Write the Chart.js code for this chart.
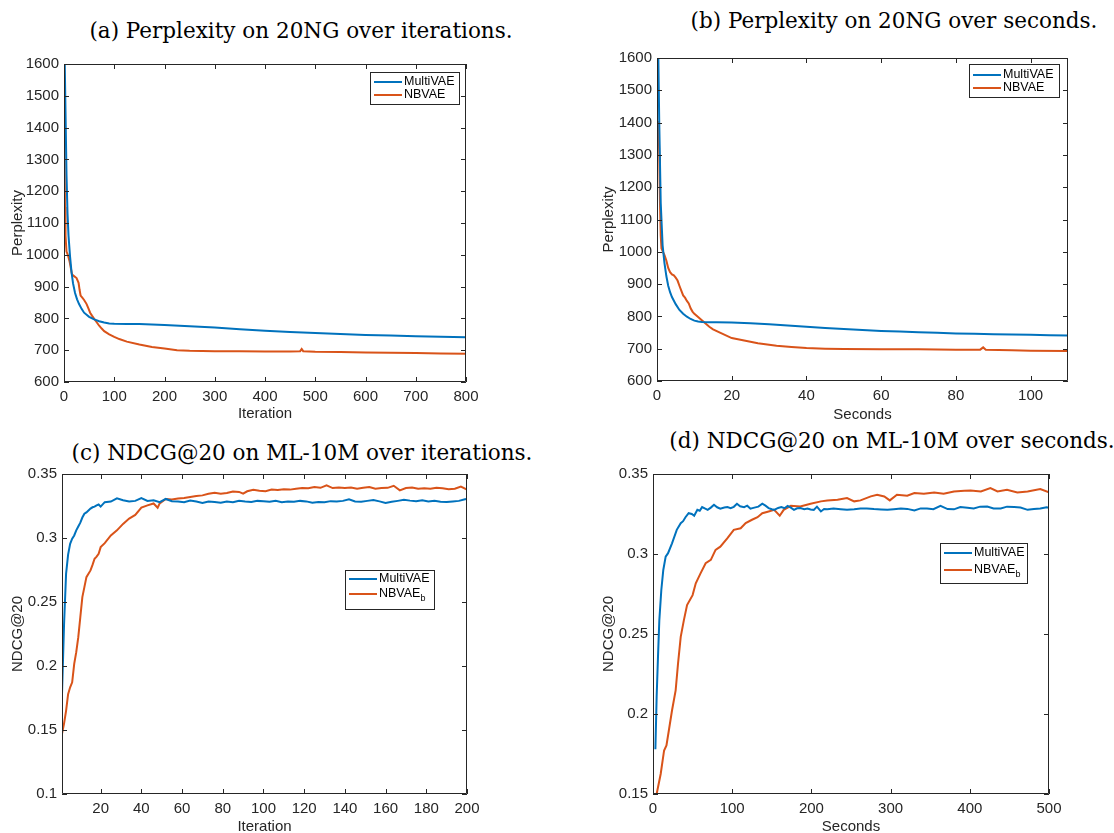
<!DOCTYPE html>
<html>
<head>
<meta charset="utf-8">
<script src="https://cdn.jsdelivr.net/npm/chart.js@4.4.0/dist/chart.umd.min.js"></script>
<style>
  html, body { margin: 0; padding: 0; background: #fff; }
  body { width: 1114px; height: 833px; position: relative; overflow: hidden; }
  .cap { position: absolute; font-family: "DejaVu Serif", serif; font-size: 21.5px; color: #000;
         white-space: nowrap; transform: translate(-50%, -50%); }
  canvas { position: absolute; }
</style>
</head>
<body>
<div class="cap" style="left:301px; top:30px">(a) Perplexity on 20NG over iterations.</div>
<div class="cap" style="left:894px; top:20px">(b) Perplexity on 20NG over seconds.</div>
<div class="cap" style="left:302px; top:452px">(c) NDCG@20 on ML-10M over iterations.</div>
<div class="cap" style="left:892px; top:440px">(d) NDCG@20 on ML-10M over seconds.</div>
<canvas id="chartA"></canvas>
<canvas id="chartB"></canvas>
<canvas id="chartC"></canvas>
<canvas id="chartD"></canvas>
<script>
// ---- data ----
const seriesNames = ['MultiVAE', 'NBVAE'];
const seriesNamesB = ['MultiVAE', 'NBVAE_b'];

// (a) perplexity vs iteration
const aBlueX = [1, 3, 5, 7, 9, 12, 15, 18, 22, 26, 30, 35, 40, 50, 60, 70, 80, 90, 100, 125, 150, 175, 200, 250, 300, 350, 400, 450, 500, 550, 600, 650, 700, 750, 800];
const aBlueY = [1650, 1450, 1250, 1130, 1060, 995, 945, 910, 880, 860, 845, 830, 818, 805, 797, 791, 787, 784, 783, 782, 782, 781, 779, 775, 771, 766, 761, 757, 754, 751, 748, 746, 744, 742, 741];
const aOrangeX = [0, 1, 2, 3, 5, 8, 11, 14, 16, 20, 25, 29, 31, 33, 36, 40, 45, 49, 52, 56, 60, 65, 70, 75, 80, 90, 100, 110, 125, 150, 175, 200, 225, 250, 300, 350, 400, 450, 470, 473, 476, 500, 550, 600, 650, 700, 750, 800];
const aOrangeY = [1430, 1300, 1150, 1060, 1010, 998, 980, 955, 938, 933, 927, 912, 890, 872, 866, 858, 845, 830, 818, 808, 799, 788, 777, 768, 760, 750, 742, 735, 727, 718, 710, 705, 700, 698, 697, 697, 696, 696, 697, 704, 697, 695, 694, 693, 692, 691, 690, 689];

// (b) perplexity vs seconds
const bBlueX = [0.3, 0.6, 1, 1.5, 2, 2.5, 3, 3.5, 4, 5, 6, 7, 8, 9, 10, 11, 12, 14, 16, 20, 25, 30, 35, 40, 45, 50, 55, 60, 65, 70, 75, 80, 85, 90, 95, 100, 105, 110];
const bBlueY = [1650, 1400, 1150, 1020, 965, 925, 895, 875, 860, 838, 820, 808, 799, 792, 787, 784, 783, 782, 782, 781, 779, 776, 772, 768, 764, 761, 758, 755, 753, 751, 749, 747, 746, 745, 744, 743, 742, 741];
const bOrangeX = [0.4, 0.6, 0.8, 1, 1.2, 1.6, 2, 2.5, 3, 3.5, 4, 4.5, 5, 5.5, 6, 6.5, 7, 7.5, 8, 8.5, 9, 9.5, 10, 11, 12, 13, 14, 15, 17, 20, 23, 27, 32, 36, 40, 45, 50, 60, 70, 80, 86.5, 87.3, 88, 95, 100, 110];
const bOrangeY = [1405, 1300, 1150, 1050, 1010, 1000, 990, 973, 950, 937, 930, 927, 920, 911, 895, 880, 865, 858, 848, 840, 825, 815, 808, 798, 788, 778, 768, 760, 749, 733, 726, 717, 709, 705, 702, 700, 699, 698, 698, 697, 697, 704, 697, 695, 694, 693];

// (c) NDCG@20 vs iteration
const cBlueX = [1, 2, 3, 4, 5, 6, 7, 8, 9, 10, 11, 12, 13, 14, 15, 16, 17, 18, 19, 20, 22, 25, 28, 31, 34, 37, 40, 43, 46, 49, 52, 55, 58, 61, 64, 67, 70, 73, 76, 79, 82, 85, 88, 91, 94, 97, 100, 103, 106, 109, 112, 115, 118, 121, 124, 127, 130, 133, 136, 139, 142, 145, 148, 151, 154, 157, 160, 163, 166, 169, 172, 175, 178, 181, 184, 187, 190, 193, 196, 199, 200];
const cBlueY = [0.178, 0.232, 0.272, 0.287, 0.2955, 0.2995, 0.302, 0.306, 0.309, 0.312, 0.316, 0.319, 0.320, 0.3215, 0.323, 0.324, 0.3245, 0.3255, 0.3262, 0.3245, 0.328, 0.3285, 0.331, 0.3295, 0.3285, 0.329, 0.3312, 0.329, 0.3295, 0.328, 0.3305, 0.3287, 0.3285, 0.328, 0.3292, 0.3285, 0.3273, 0.3285, 0.3282, 0.3275, 0.3285, 0.328, 0.329, 0.3285, 0.3282, 0.329, 0.3287, 0.3283, 0.329, 0.328, 0.3286, 0.3283, 0.329, 0.3286, 0.3275, 0.3282, 0.328, 0.3288, 0.3285, 0.329, 0.3302, 0.3285, 0.3283, 0.329, 0.3297, 0.3286, 0.3273, 0.3283, 0.329, 0.3298, 0.3292, 0.3288, 0.3295, 0.3285, 0.329, 0.3283, 0.3281, 0.3286, 0.329, 0.3302, 0.3305];
const cOrangeX = [1, 2, 3, 4, 5, 6, 7, 8, 9, 10, 11, 12, 13, 14, 15, 16, 17, 18, 19, 20, 22, 25, 28, 31, 34, 37, 40, 43, 46, 48, 49, 52, 55, 58, 61, 64, 67, 70, 73, 76, 79, 82, 85, 88, 90, 92, 95, 98, 101, 104, 107, 110, 113, 116, 119, 122, 125, 128, 131, 134, 137, 140, 143, 146, 149, 152, 155, 158, 161, 164, 167, 170, 173, 176, 179, 182, 185, 188, 191, 194, 197, 200];
const cOrangeY = [0.147, 0.155, 0.165, 0.178, 0.1834, 0.1873, 0.2017, 0.2108, 0.2225, 0.2382, 0.2538, 0.2616, 0.2694, 0.272, 0.2747, 0.279, 0.2838, 0.2855, 0.2877, 0.2929, 0.296, 0.302, 0.306, 0.311, 0.3152, 0.318, 0.3237, 0.3255, 0.327, 0.3237, 0.327, 0.3305, 0.33, 0.3308, 0.3312, 0.332, 0.3328, 0.3333, 0.3345, 0.3354, 0.3346, 0.3352, 0.3364, 0.336, 0.3346, 0.3365, 0.3377, 0.337, 0.3366, 0.3378, 0.3375, 0.338, 0.3378, 0.3385, 0.339, 0.3388, 0.3398, 0.3392, 0.3412, 0.339, 0.3395, 0.339, 0.3395, 0.3385, 0.3392, 0.3398, 0.3385, 0.339, 0.3392, 0.3408, 0.3372, 0.339, 0.3395, 0.3385, 0.3388, 0.3385, 0.3392, 0.3388, 0.338, 0.3385, 0.3402, 0.3378];

// (d) NDCG@20 vs seconds
const dBlueX = [3, 4.6, 6.3, 8, 10.5, 13, 16, 19, 24, 30, 35, 38, 41, 45, 49, 52, 56, 59, 62, 66, 69, 73, 77, 81, 85, 90, 94, 98, 102, 106, 110, 115, 119, 123, 128, 133, 138, 142, 146, 150, 153, 158, 162, 166, 170, 174, 178, 182, 186, 191, 195, 199, 203, 207, 212, 216, 220, 228, 237, 245, 254, 262, 270, 279, 288, 296, 304, 313, 321, 330, 338, 346, 354, 363, 372, 380, 388, 397, 405, 413, 422, 430, 439, 447, 456, 464, 473, 481, 489, 497, 500];
const dBlueY = [0.178, 0.2106, 0.2357, 0.2587, 0.2775, 0.29, 0.2984, 0.3005, 0.3067, 0.3151, 0.3193, 0.3205, 0.323, 0.3255, 0.325, 0.3239, 0.3276, 0.327, 0.3293, 0.3283, 0.3276, 0.329, 0.3308, 0.3292, 0.3283, 0.329, 0.3293, 0.3286, 0.3295, 0.3314, 0.3298, 0.3293, 0.3302, 0.3283, 0.329, 0.3296, 0.3314, 0.3302, 0.3287, 0.328, 0.3276, 0.3288, 0.3293, 0.3286, 0.3301, 0.329, 0.3276, 0.3286, 0.3287, 0.328, 0.3284, 0.3278, 0.3276, 0.3296, 0.3266, 0.3281, 0.3279, 0.3285, 0.328, 0.3276, 0.328, 0.3285, 0.3285, 0.3281, 0.3278, 0.3276, 0.328, 0.3285, 0.3282, 0.3272, 0.3285, 0.3285, 0.328, 0.3301, 0.3281, 0.3279, 0.3293, 0.3289, 0.3285, 0.3296, 0.3297, 0.3284, 0.3285, 0.3296, 0.3293, 0.329, 0.3276, 0.3281, 0.3285, 0.3292, 0.3289];
const dOrangeX = [3, 4.6, 9.7, 14, 17, 20, 24, 28.6, 31.6, 35, 39, 43, 50, 54, 60, 66.5, 73, 79, 85, 94, 102, 110.7, 117, 125, 132, 138, 146, 153, 160, 165, 174, 186, 199, 212, 220, 233, 245, 254, 262, 275, 283, 292, 299, 308, 321, 330, 342, 355, 367, 380, 393, 401, 414, 426, 435, 447, 460, 473, 489, 500];
const dOrangeY = [0.147, 0.15, 0.1625, 0.1772, 0.1803, 0.1897, 0.2022, 0.2148, 0.2315, 0.2482, 0.2587, 0.2681, 0.2743, 0.2817, 0.2879, 0.2942, 0.2963, 0.3026, 0.3046, 0.3099, 0.3151, 0.3161, 0.3193, 0.3214, 0.323, 0.3255, 0.3266, 0.3276, 0.3239, 0.3276, 0.3301, 0.3297, 0.3314, 0.3329, 0.3335, 0.3339, 0.335, 0.3329, 0.3335, 0.336, 0.337, 0.336, 0.3335, 0.337, 0.3364, 0.3381, 0.3377, 0.3385, 0.3377, 0.3391, 0.3395, 0.3397, 0.3391, 0.3412, 0.3391, 0.3402, 0.3385, 0.3391, 0.3406, 0.3385];

// tick labels
const perplexityTicks = [600, 700, 800, 900, 1000, 1100, 1200, 1300, 1400, 1500, 1600];
const aIterTicks = [0, 100, 200, 300, 400, 500, 600, 700, 800];
const bSecTicks = [0, 20, 40, 60, 80, 100];
const cIterTicks = [20, 40, 60, 80, 100, 120, 140, 160, 180, 200];
const cNdcgTicks = [0.1, 0.15, 0.2, 0.25, 0.3, 0.35];
const dSecTicks = [0, 100, 200, 300, 400, 500];
const dNdcgTicks = [0.15, 0.2, 0.25, 0.3, 0.35];

const BLUE = '#0072BD';
const ORANGE = '#D95319';
const AXIS = '#262626';
const SANS = '"Liberation Sans", Arial, sans-serif';

// MATLAB-like box with inward ticks on all four sides, plus an in-axes legend
const matlabFrame = {
  id: 'matlabFrame',
  afterDatasetsDraw(chart, args, opts) {
    const { ctx, chartArea: a, scales: { x, y } } = chart;
    const tl = 5;
    ctx.save();
    ctx.strokeStyle = AXIS;
    ctx.lineWidth = 1;
    ctx.beginPath();
    ctx.rect(a.left + 0.5, a.top + 0.5, a.right - a.left - 1, a.bottom - a.top - 1);
    x.ticks.forEach(t => {
      const px = Math.round(x.getPixelForValue(t.value)) + 0.5;
      ctx.moveTo(px, a.bottom); ctx.lineTo(px, a.bottom - tl);
      ctx.moveTo(px, a.top); ctx.lineTo(px, a.top + tl);
    });
    y.ticks.forEach(t => {
      const py = Math.round(y.getPixelForValue(t.value)) + 0.5;
      ctx.moveTo(a.left, py); ctx.lineTo(a.left + tl, py);
      ctx.moveTo(a.right, py); ctx.lineTo(a.right - tl, py);
    });
    ctx.stroke();

    const lg = opts.box;
    if (lg) {
      const bx = lg.left - opts.origin[0], by = lg.top - opts.origin[1];
      ctx.fillStyle = '#fff';
      ctx.fillRect(bx, by, lg.width, lg.height);
      ctx.strokeStyle = AXIS;
      ctx.strokeRect(bx + 0.5, by + 0.5, lg.width - 1, lg.height - 1);
      chart.data.datasets.forEach((ds, i) => {
        const ry = lg.rows[i] - opts.origin[1];
        ctx.strokeStyle = ds.borderColor;
        ctx.lineWidth = 2;
        ctx.beginPath();
        ctx.moveTo(bx + 4, ry); ctx.lineTo(bx + 32, ry);
        ctx.stroke();
        const [main, sub] = ds.label.split('_');
        ctx.fillStyle = '#000';
        ctx.textBaseline = 'middle';
        ctx.textAlign = 'left';
        ctx.font = '12.5px ' + SANS;
        ctx.fillText(main, bx + 34, ry);
        if (sub) {
          const w = ctx.measureText(main).width;
          ctx.font = '9px ' + SANS;
          ctx.fillText(sub, bx + 34 + w, ry + 5);
        }
      });
    }
    ctx.restore();
  }
};

function makePanel(id, g, series, xs, ys, legendBox) {
  const canvas = document.getElementById(id);
  canvas.width = g.width;
  canvas.height = g.height;
  canvas.style.left = g.left + 'px';
  canvas.style.top = g.top + 'px';
  const [pl, pt, pr, pb] = g.plot;
  const yW = pl - g.left;
  const xH = g.top + g.height - pb;
  const tickFont = { family: SANS, size: 15 };
  const titleFont = { family: SANS, size: 15 };

  new Chart(canvas, {
    type: 'line',
    data: {
      datasets: series.map(s => ({
        label: s.label,
        data: s.x.map((v, i) => ({ x: v, y: s.y[i] })),
        borderColor: s.color,
        borderWidth: 2,
        pointRadius: 0,
        tension: 0,
        fill: false,
        clip: 0
      }))
    },
    options: {
      responsive: false,
      animation: false,
      parsing: false,
      events: [],
      layout: { padding: { left: 0, top: pt - g.top, right: g.left + g.width - pr, bottom: 0 } },
      plugins: {
        legend: { display: false },
        tooltip: { enabled: false },
        matlabFrame: { box: legendBox, origin: [g.left, g.top] }
      },
      scales: {
        x: {
          type: 'linear', min: xs.min, max: xs.max,
          afterBuildTicks: s => { s.ticks = xs.ticks.map(v => ({ value: v })); },
          afterFit: s => { s.height = xH; },
          grid: { display: false, drawTicks: false },
          border: { display: false },
          ticks: { callback: v => String(v), font: tickFont, color: AXIS, padding: 6, maxRotation: 0, autoSkip: false },
          title: { display: true, text: xs.title, font: titleFont, color: AXIS, padding: { top: 0, bottom: xs.titlePad } }
        },
        y: {
          type: 'linear', min: ys.min, max: ys.max,
          afterBuildTicks: s => { s.ticks = ys.ticks.map(v => ({ value: v })); },
          afterFit: s => { s.width = yW; },
          grid: { display: false, drawTicks: false },
          border: { display: false },
          ticks: { callback: v => String(v), font: tickFont, color: AXIS, padding: 5, autoSkip: false },
          title: { display: true, text: ys.title, font: titleFont, color: AXIS, padding: { top: ys.titlePad, bottom: 0 } }
        }
      }
    },
    plugins: [matlabFrame]
  });
}

makePanel('chartA',
  { left: 0, top: 50, width: 490, height: 374, plot: [64, 64, 466, 382] },
  [
    { label: seriesNames[0], x: aBlueX, y: aBlueY, color: BLUE },
    { label: seriesNames[1], x: aOrangeX, y: aOrangeY, color: ORANGE }
  ],
  { min: 0, max: 800, ticks: aIterTicks, title: 'Iteration', titlePad: 1 },
  { min: 600, max: 1600, ticks: perplexityTicks, title: 'Perplexity', titlePad: 8.5 },
  { left: 370, top: 72, width: 90, height: 33, rows: [82, 95] });

makePanel('chartB',
  { left: 590, top: 44, width: 500, height: 380, plot: [657, 57, 1068, 381] },
  [
    { label: seriesNames[0], x: bBlueX, y: bBlueY, color: BLUE },
    { label: seriesNames[1], x: bOrangeX, y: bOrangeY, color: ORANGE }
  ],
  { min: 0, max: 110, ticks: bSecTicks, title: 'Seconds', titlePad: 0 },
  { min: 600, max: 1600, ticks: perplexityTicks, title: 'Perplexity', titlePad: 10 },
  { left: 969, top: 64, width: 91, height: 34, rows: [75, 88] });

makePanel('chartC',
  { left: 0, top: 460, width: 490, height: 380, plot: [62, 474, 467, 794] },
  [
    { label: seriesNamesB[0], x: cBlueX, y: cBlueY, color: BLUE },
    { label: seriesNamesB[1], x: cOrangeX, y: cOrangeY, color: ORANGE }
  ],
  { min: 1, max: 200, ticks: cIterTicks, title: 'Iteration', titlePad: 4.5 },
  { min: 0.1, max: 0.35, ticks: cNdcgTicks, title: 'NDCG@20', titlePad: 8.5 },
  { left: 345, top: 570, width: 90, height: 40, rows: [579, 594] });

makePanel('chartD',
  { left: 590, top: 460, width: 500, height: 380, plot: [653, 474, 1049, 794] },
  [
    { label: seriesNamesB[0], x: dBlueX, y: dBlueY, color: BLUE },
    { label: seriesNamesB[1], x: dOrangeX, y: dOrangeY, color: ORANGE }
  ],
  { min: 0, max: 500, ticks: dSecTicks, title: 'Seconds', titlePad: 4 },
  { min: 0.15, max: 0.35, ticks: dNdcgTicks, title: 'NDCG@20', titlePad: 10 },
  { left: 940, top: 543, width: 88, height: 41, rows: [553, 570] });
</script>
</body>
</html>
